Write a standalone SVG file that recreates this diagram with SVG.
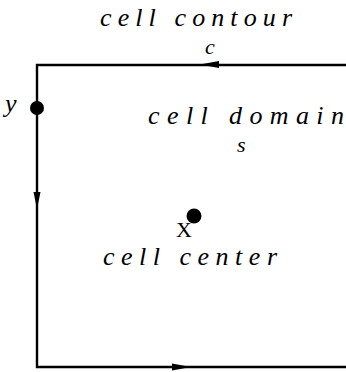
<svg xmlns="http://www.w3.org/2000/svg" width="346" height="372" viewBox="0 0 346 372">
<style>
.lbl{font-family:"Liberation Serif","DejaVu Serif",serif;font-style:italic;font-size:26px;fill:#000}
.sm{font-family:"Liberation Serif","DejaVu Serif",serif;font-style:italic;font-size:22px;fill:#000}
.sym{font-family:"Liberation Serif","DejaVu Serif",serif;font-size:22px;fill:#000}
.edge{fill:none;stroke:#000;stroke-width:2.4}
.head{fill:#000}
</style>
<rect width="346" height="372" fill="#fff"/>
<g id="connectors">
<path class="edge" d="M346,65 H37 V367 H346"/>
<polygon class="head" points="200,64.5 219,61 219,68"/>
<polygon class="head" points="37,209 33.5,192 40.5,192"/>
<polygon class="head" points="191,367 172,363.5 172,370.5"/>
</g>
<g id="contour-label">
<text class="lbl" x="100" y="26" textLength="192" lengthAdjust="spacing">cell contour</text>
<text class="sm" x="205" y="54">c</text>
</g>
<g id="domain-label">
<text class="lbl" x="148" y="124" textLength="196" lengthAdjust="spacing">cell domain</text>
<text class="sm" x="237" y="152">s</text>
</g>
<g id="node-y">
<circle cx="37" cy="108" r="7" fill="#000"/>
<text class="lbl" x="5" y="112">y</text>
</g>
<g id="node-x">
<circle cx="194" cy="216" r="7.5" fill="#000"/>
<text class="sym" x="176" y="237">X</text>
<text class="lbl" x="103" y="265" textLength="174" lengthAdjust="spacing">cell center</text>
</g>
</svg>
